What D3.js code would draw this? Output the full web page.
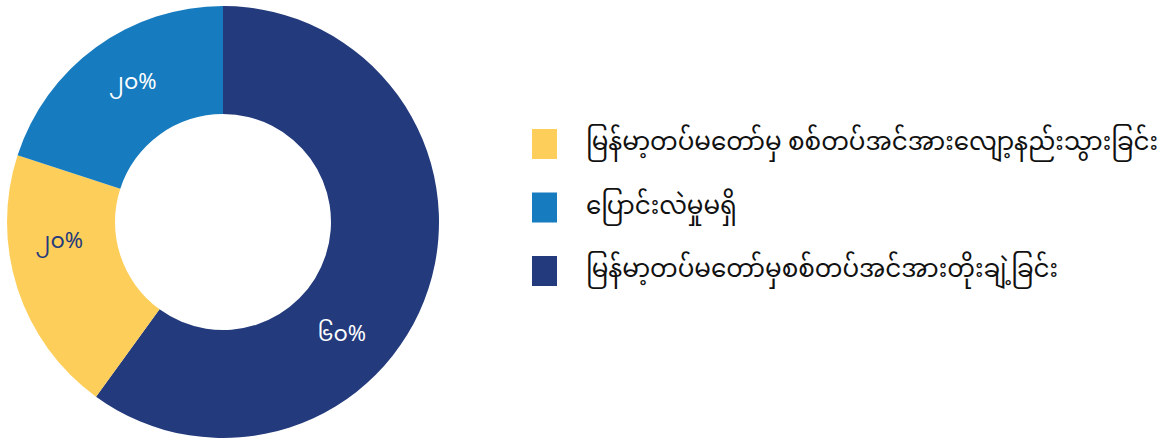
<!DOCTYPE html>
<html><head><meta charset="utf-8">
<script src="https://cdn.jsdelivr.net/npm/d3@7"></script>
<style>
html,body{margin:0;padding:0;background:#fff;}
svg{display:block;}
</style></head>
<body>
<svg id="chart" width="1172" height="444"></svg>
<script>
// Data (pie order starts at 12 o'clock, clockwise)
const categories = [
  "မြန်မာ့တပ်မတော်မှစစ်တပ်အင်အားတိုးချဲ့ခြင်း",
  "မြန်မာ့တပ်မတော်မှ စစ်တပ်အင်အားလျော့နည်းသွားခြင်း",
  "ပြောင်းလဲမှုမရှိ"
];
const values = [60, 20, 20];
const valueLabels = ["၆၀%", "၂၀%", "၂၀%"];
const colors = ["#233a7c", "#fdce5a", "#177bbf"];
const labelColors = ["#ffffff", "#233a7c", "#ffffff"];
const labelFrac = [0.62, 0.65, 0.54];   // where within each slice the label sits
const legendOrder = [1, 2, 0];

const svg = d3.select("#chart");
const cx = 223, cy = 222, rOuter = 216, rInner = 108;
const g = svg.append("g").attr("transform", `translate(${cx},${cy})`);

const pie = d3.pie().sort(null).value(d => d)(values);
const arc = d3.arc().innerRadius(rInner).outerRadius(rOuter);

g.selectAll("path").data(pie).enter().append("path")
  .attr("d", arc)
  .attr("fill", (d, i) => colors[i]);

const font = "'Noto Sans Myanmar','Padauk','Myanmar Text','Noto Sans','DejaVu Sans',sans-serif";
const labelR = 165;
g.selectAll("text.lbl").data(pie).enter().append("text")
  .attr("class", "lbl")
  .each(function(d, i) {
    const a = d.startAngle + (d.endAngle - d.startAngle) * labelFrac[i];
    d3.select(this)
      .attr("x", labelR * Math.sin(a))
      .attr("y", -labelR * Math.cos(a));
  })
  .attr("text-anchor", "middle")
  .attr("dominant-baseline", "central")
  .attr("font-family", font)
  .attr("font-size", 22)
  .attr("fill", (d, i) => labelColors[i])
  .text((d, i) => valueLabels[i]);

// Legend
const legend = svg.append("g");
const ly = d3.scalePoint().domain(legendOrder).range([144, 271]);
legendOrder.forEach(i => {
  const y = ly(i);
  legend.append("rect")
    .attr("x", 532).attr("y", y - 15)
    .attr("width", 25).attr("height", 30)
    .attr("fill", colors[i]);
  legend.append("text")
    .attr("x", 586).attr("y", y)
    .attr("dominant-baseline", "central")
    .attr("font-family", font)
    .attr("font-size", 24.6)
    .attr("fill", "#111")
    .text(categories[i]);
});
</script>
</body></html>
